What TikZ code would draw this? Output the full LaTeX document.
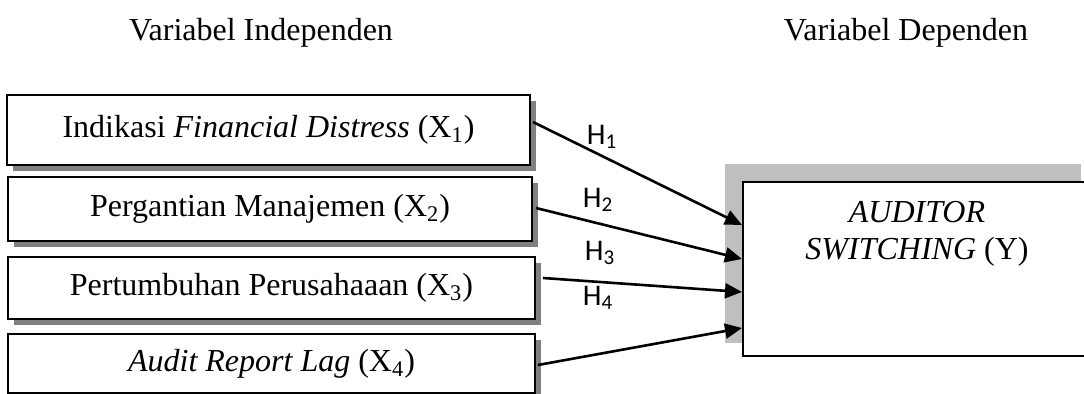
\documentclass[tikz,border=0pt]{standalone}
\usepackage{fontspec}
\setmainfont{Liberation Serif}
\newfontfamily\hfont{Carlito}
\usetikzlibrary{shadows,arrows.meta,calc}
\begin{document}
\begin{tikzpicture}[x=0.5pt,y=-0.5pt,
  varbox/.style={draw, line width=1pt, fill=white, inner sep=0pt,
    font=\fontsize{16}{19}\selectfont,
    drop shadow={shadow xshift=3pt, shadow yshift=-3pt, fill=black!50, opacity=1}},
  depbox/.style={draw, line width=1pt, fill=white, inner sep=0pt},
  title/.style={font=\fontsize{16}{19}\selectfont, inner sep=0pt},
  hyp/.style={font=\hfont\fontsize{15}{17}\selectfont, inner sep=0pt},
  link/.style={line width=1.3pt, -{Triangle[length=8.5pt,width=7.5pt]}}]
\useasboundingbox (0,0) rectangle (1084,394);
\clip (0,0) rectangle (1084,394);

% column headings
\node[title] (tind) at (261,33) {Variabel Independen};
\node[title] (tdep) at (906,33) {Variabel Dependen};

% independent variables
\node[varbox, minimum width=261.5pt, minimum height=35pt] (x1) at (268.5,130)
  {Indikasi \textit{Financial Distress} (X\textsubscript{1})};
\node[varbox, minimum width=262pt, minimum height=32pt] (x2) at (270,209)
  {Pergantian Manajemen (X\textsubscript{2})};
\node[varbox, minimum width=263.5pt, minimum height=31pt] (x3) at (271.5,288)
  {Pertumbuhan Perusahaaan (X\textsubscript{3})};
\node[varbox, minimum width=263.5pt, minimum height=29.5pt] (x4) at (271.5,363.5)
  {\textit{Audit Report Lag} (X\textsubscript{4})};

% dependent variable with its offset shadow
\coordinate (ybox) at (917.5,269);
\fill[black!25] ($(ybox)+(-192.5,-105)$) rectangle ($(ybox)+(163.5,74)$);
\node[depbox, minimum width=174.5pt, minimum height=87pt] (y) at (ybox) {};
\node[title, align=center, font=\fontsize{16}{18.5}\selectfont] (ylab) at (917,233.5)
  {\textit{AUDITOR}\\\textit{SWITCHING} (Y)};

% hypotheses
\draw[link] ([shift={(2,-8)}]x1.east) -- ([shift={(0,-44)}]y.west);
\draw[link] ([shift={(3,-1)}]x2.east) -- ([shift={(0,-10)}]y.west);
\draw[link] ([shift={(7,-10)}]x3.east) -- ([shift={(0,23)}]y.west);
\draw[link] ([shift={(2,1.5)}]x4.east) -- ([shift={(0,59)}]y.west);

\node[hyp] (h1) at (602,137) {H\textsubscript{1}};
\node[hyp] (h2) at (598,200) {H\textsubscript{2}};
\node[hyp] (h3) at (600,253) {H\textsubscript{3}};
\node[hyp] (h4) at (598,298) {H\textsubscript{4}};
\end{tikzpicture}
\end{document}
